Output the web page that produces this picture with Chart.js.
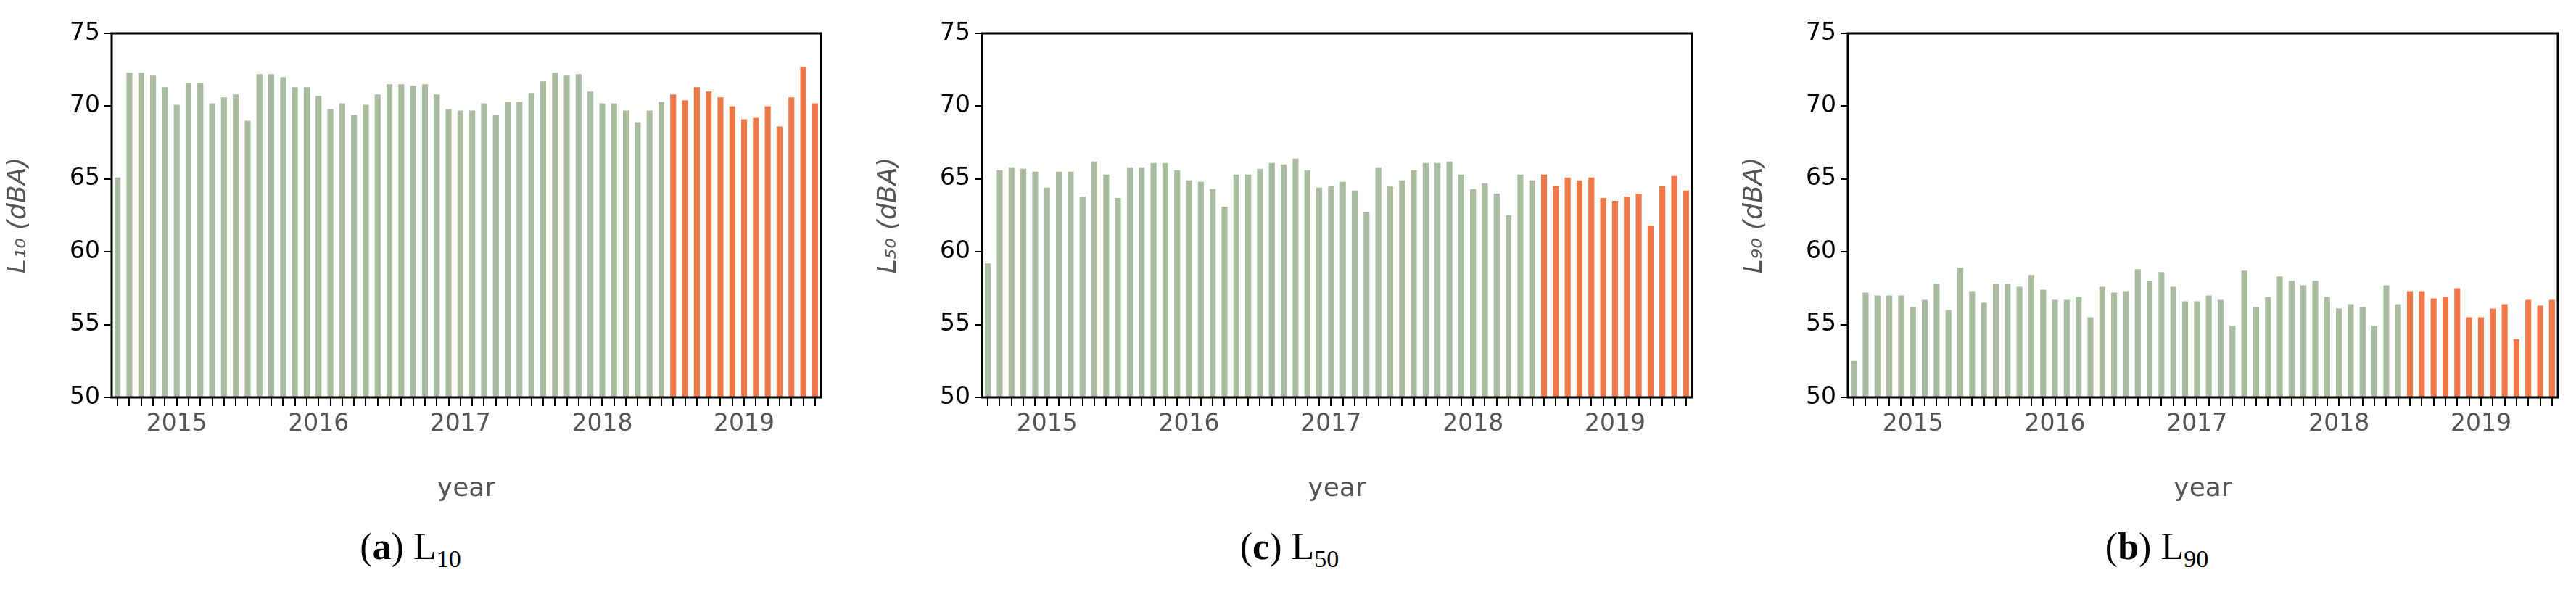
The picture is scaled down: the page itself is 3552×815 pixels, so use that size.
<!DOCTYPE html>
<html><head><meta charset="utf-8">
<script src="https://cdn.jsdelivr.net/npm/chart.js@4"></script>
<style>
body{margin:0;background:#fff;width:3552px;height:815px;position:relative;overflow:hidden;font-family:"DejaVu Sans";}
.p{position:absolute;top:0;}
.cap{position:absolute;top:724px;font-family:"Liberation Serif","DejaVu Serif",serif;font-size:52px;color:#000;transform:translateX(-50%);white-space:nowrap;}
</style></head><body>
<div class="p" id="d0"><canvas id="c0"></canvas></div>
<div class="p" id="d1"><canvas id="c1"></canvas></div>
<div class="p" id="d2"><canvas id="c2"></canvas></div>
<div class="cap" style="left:566px">(<b>a</b>) L<sub style="font-size:34px">10</sub></div>
<div class="cap" style="left:1778px">(<b>c</b>) L<sub style="font-size:34px">50</sub></div>
<div class="cap" style="left:2974px">(<b>b</b>) L<sub style="font-size:34px">90</sub></div>
<script>
// months Aug 2014 .. Jul 2019
const months = [];
for (let y = 2014; y <= 2019; y++) for (let m = 1; m <= 12; m++) {
  if ((y === 2014 && m < 8) || (y === 2019 && m > 7)) continue;
  months.push(y + '-' + String(m).padStart(2, '0'));
}
const splitMonth = '2018-07';
const yTicks = [50, 55, 60, 65, 70, 75];
const L10 = [65.1,72.3,72.3,72.1,71.3,70.1,71.6,71.6,70.2,70.6,70.8,69.0,72.2,72.2,72.0,71.3,71.3,70.7,69.8,70.2,69.4,70.1,70.8,71.5,71.5,71.4,71.5,70.8,69.8,69.7,69.7,70.2,69.4,70.3,70.3,70.9,71.7,72.3,72.1,72.2,71.0,70.2,70.2,69.7,68.9,69.7,70.3,
  70.8,70.4,71.3,71.0,70.6,70.0,69.1,69.2,70.0,68.6,70.6,72.7,70.2];
const L50 = [59.2,65.6,65.8,65.7,65.5,64.4,65.5,65.5,63.8,66.2,65.3,63.7,65.8,65.8,66.1,66.1,65.6,64.9,64.8,64.3,63.1,65.3,65.3,65.7,66.1,66.0,66.4,65.6,64.4,64.5,64.8,64.2,62.7,65.8,64.5,64.9,65.6,66.1,66.1,66.2,65.3,64.3,64.7,64.0,62.5,65.3,64.9,
  65.3,64.5,65.1,64.9,65.1,63.7,63.5,63.8,64.0,61.8,64.5,65.2,64.2];
const L90 = [52.5,57.2,57.0,57.0,57.0,56.2,56.7,57.8,56.0,58.9,57.3,56.5,57.8,57.8,57.6,58.4,57.4,56.7,56.7,56.9,55.5,57.6,57.2,57.3,58.8,58.0,58.6,57.6,56.6,56.6,57.0,56.7,54.9,58.7,56.2,56.9,58.3,58.0,57.7,58.0,56.9,56.1,56.4,56.2,54.9,57.7,56.4,
  57.3,57.3,56.8,56.9,57.5,55.5,55.5,56.1,56.4,54.0,56.7,56.3,56.7];

const GREEN = '#aabc9f', ORANGE = '#ee7847';
const boxPlugin = {id:'box', afterDraw(c){const a=c.chartArea,x=c.ctx;x.save();x.strokeStyle='#000';x.lineWidth=3;x.strokeRect(a.left,a.top,a.right-a.left,a.bottom-a.top);x.restore();}};
const Y_W = 154, TOP = 46, PH = 502, H = 700;
function make(i, data, sub, plotLeft, plotW) {
  const d = document.getElementById('d'+i);
  const W = Y_W + plotW + 10;
  d.style.left = (plotLeft - Y_W) + 'px';
  d.style.width = W + 'px'; d.style.height = H + 'px';
  const cv = document.getElementById('c'+i);
  cv.width = W; cv.height = H;
  cv.style.width = W + 'px'; cv.style.height = H + 'px';
  new Chart(cv, {
    type: 'bar',
    data: {labels: months, datasets: [{data, backgroundColor: months.map(m => m < splitMonth ? GREEN : ORANGE), barPercentage: 0.5, categoryPercentage: 1.0}]},
    options: {
      responsive: false, animation: false, devicePixelRatio: 1,
      layout: {padding: {top: TOP, right: 10, left: 0, bottom: 0}},
      plugins: {legend: {display: false}, tooltip: {enabled: false}},
      scales: {
        x: {
          grid: {display: true, drawOnChartArea: false, drawTicks: true, tickLength: 12, color: '#000', lineWidth: 2, offset: false},
          border: {display: false},
          ticks: {autoSkip: false, maxRotation: 0, color: '#555', font: {size: 33, family: 'DejaVu Sans'}, padding: 6,
            callback: (v, idx) => months[idx].endsWith('-01') ? months[idx].slice(0, 4) : ''},
          title: {display: true, text: 'year', color: '#555', font: {size: 36, family: 'DejaVu Sans'}, padding: {top: 4}},
          afterFit: s => { s.height = H - TOP - PH; }
        },
        y: {
          min: 50, max: 75,
          afterBuildTicks: s => { s.ticks = yTicks.map(v => ({value: v})); },
          grid: {display: true, drawOnChartArea: false, drawTicks: true, tickLength: 10, color: '#000', lineWidth: 2},
          border: {display: false},
          ticks: {color: '#000', font: {size: 33, family: 'DejaVu Sans'}, padding: 6},
          title: {display: true, text: 'L' + sub + ' (dBA)', color: '#555', font: {size: 36, style: 'italic', family: 'DejaVu Sans'}, padding: {bottom: 4}},
          afterFit: s => { s.width = Y_W; }
        }
      }
    },
    plugins: [boxPlugin]
  });
}
make(0, L10, '₁₀', 154, 978);
make(1, L50, '₅₀', 1354, 979);
make(2, L90, '₉₀', 2548, 979);
</script></body></html>
